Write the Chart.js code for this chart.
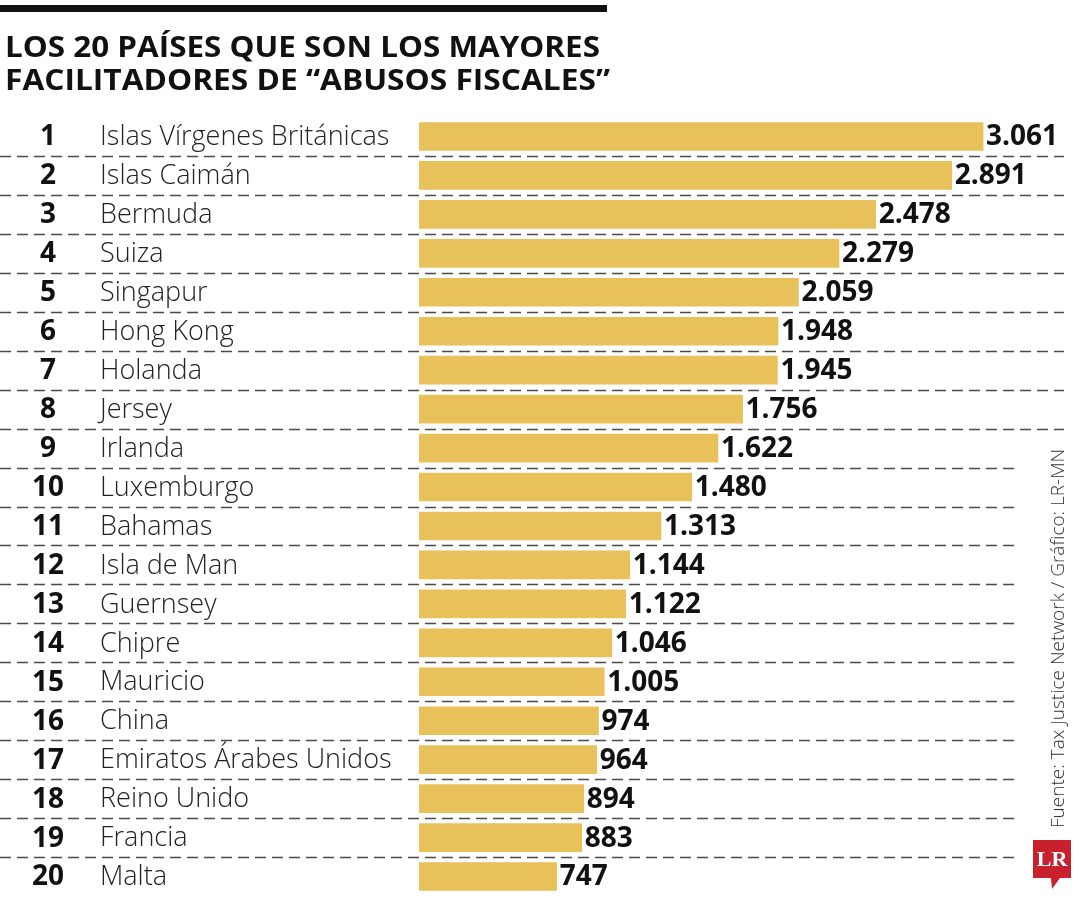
<!DOCTYPE html>
<html>
<head>
<meta charset="utf-8">
<script src="https://cdn.jsdelivr.net/npm/chart.js@4"></script>
<style>
  body { margin: 0; background: #fff; }
  #chart { display: block; }
</style>
</head>
<body>
<canvas id="chart" width="1080" height="900"></canvas>
<script>
// datos: índice de abusos fiscales (Tax Justice Network)
const paises = ["Islas Vírgenes Británicas", "Islas Caimán", "Bermuda", "Suiza", "Singapur",
  "Hong Kong", "Holanda", "Jersey", "Irlanda", "Luxemburgo", "Bahamas", "Isla de Man",
  "Guernsey", "Chipre", "Mauricio", "China", "Emiratos Árabes Unidos", "Reino Unido",
  "Francia", "Malta"];
const puestos = ["1", "2", "3", "4", "5", "6", "7", "8", "9", "10", "11", "12", "13", "14",
  "15", "16", "17", "18", "19", "20"];
const valores = [3061, 2891, 2478, 2279, 2059, 1948, 1945, 1756, 1622, 1480, 1313, 1144,
  1122, 1046, 1005, 974, 964, 894, 883, 747];

const titulo = ["LOS 20 PAÍSES QUE SON LOS MAYORES", "FACILITADORES DE “ABUSOS FISCALES”"];
const fuente = "Fuente: Tax Justice Network / Gráfico: LR-MN";

const AMARILLO = "#E9C15B";

function miles(n) {
  return String(n).replace(/\B(?=(\d{3})+(?!\d))/g, ".");
}

// texto estirado horizontalmente hasta un ancho dado
function textoAncho(ctx, txt, x, y, ancho) {
  const w = ctx.measureText(txt).width;
  ctx.save();
  ctx.translate(x, y);
  ctx.scale(ancho / w, 1);
  ctx.fillText(txt, 0, 0);
  ctx.restore();
}

const decoracion = {
  id: "decoracion",
  beforeDatasetsDraw(chart) {
    const ctx = chart.ctx;
    const y = chart.scales.y;
    ctx.save();
    // separadores punteados (se cortan donde va la fuente vertical)
    ctx.strokeStyle = "#4a4a4a";
    ctx.lineWidth = 1.3;
    ctx.setLineDash([11, 6]);
    for (let i = 0; i < paises.length - 1; i++) {
      const yy = Math.round((y.getPixelForValue(i) + y.getPixelForValue(i + 1)) / 2) + 0.5;
      ctx.beginPath();
      ctx.moveTo(0, yy);
      ctx.lineTo(yy > 440 ? 1020 : 1064, yy);
      ctx.stroke();
    }
    ctx.restore();
  },
  afterDraw(chart) {
    const ctx = chart.ctx;
    const y = chart.scales.y;
    const meta = chart.getDatasetMeta(0);
    ctx.save();

    // barra negra superior
    ctx.fillStyle = "#111";
    ctx.fillRect(0, 5, 607, 7);

    // título
    ctx.fillStyle = "#111";
    ctx.font = "bold 28px 'Open Sans'";
    ctx.textAlign = "left";
    ctx.textBaseline = "alphabetic";
    textoAncho(ctx, titulo[0], 5, 57, 595);
    textoAncho(ctx, titulo[1], 5, 90, 605);

    // puestos y nombres
    ctx.textBaseline = "middle";
    paises.forEach((p, i) => {
      const yy = y.getPixelForValue(i);
      ctx.fillStyle = "#111";
      ctx.font = "bold 28px 'Open Sans'";
      ctx.textAlign = "center";
      ctx.fillText(puestos[i], 48, yy + 1);
      ctx.fillStyle = "#222";
      ctx.font = "300 27px 'Open Sans'";
      ctx.textAlign = "left";
      ctx.fillText(p, 100, yy + 1);
    });

    // valores al final de cada barra
    ctx.fillStyle = "#111";
    ctx.font = "bold 28px 'Open Sans'";
    ctx.textAlign = "left";
    meta.data.forEach((bar, i) => {
      ctx.fillText(miles(valores[i]), bar.x + 3, bar.y + 1);
    });

    // fuente vertical
    ctx.save();
    ctx.translate(1064, 828);
    ctx.rotate(-Math.PI / 2);
    ctx.fillStyle = "#333";
    ctx.font = "300 19px 'Open Sans'";
    ctx.textAlign = "left";
    ctx.textBaseline = "alphabetic";
    ctx.fillText(fuente, 0, 0);
    ctx.restore();

    // logo LR
    ctx.fillStyle = "#C8202D";
    ctx.beginPath();
    ctx.moveTo(1033, 840);
    ctx.lineTo(1071, 840);
    ctx.lineTo(1071, 878);
    ctx.lineTo(1060, 878);
    ctx.lineTo(1052, 889);
    ctx.lineTo(1051, 878);
    ctx.lineTo(1033, 878);
    ctx.closePath();
    ctx.fill();
    ctx.fillStyle = "#fff";
    ctx.font = "bold 22px 'Liberation Serif'";
    ctx.textAlign = "center";
    ctx.textBaseline = "middle";
    ctx.fillText("LR", 1052, 860);
    ctx.restore();
  }
};

new Chart(document.getElementById("chart"), {
  type: "bar",
  data: {
    labels: paises,
    datasets: [{
      data: valores,
      backgroundColor: AMARILLO,
      barThickness: 28,
      borderWidth: 0
    }]
  },
  options: {
    indexAxis: "y",
    responsive: false,
    animation: false,
    layout: { padding: { left: 419, right: 16, top: 117, bottom: 4 } },
    plugins: {
      legend: { display: false },
      tooltip: { enabled: false }
    },
    scales: {
      x: { min: 0, max: 3500, display: false },
      y: { display: false, offset: true }
    }
  },
  plugins: [decoracion]
});
</script>
</body>
</html>
